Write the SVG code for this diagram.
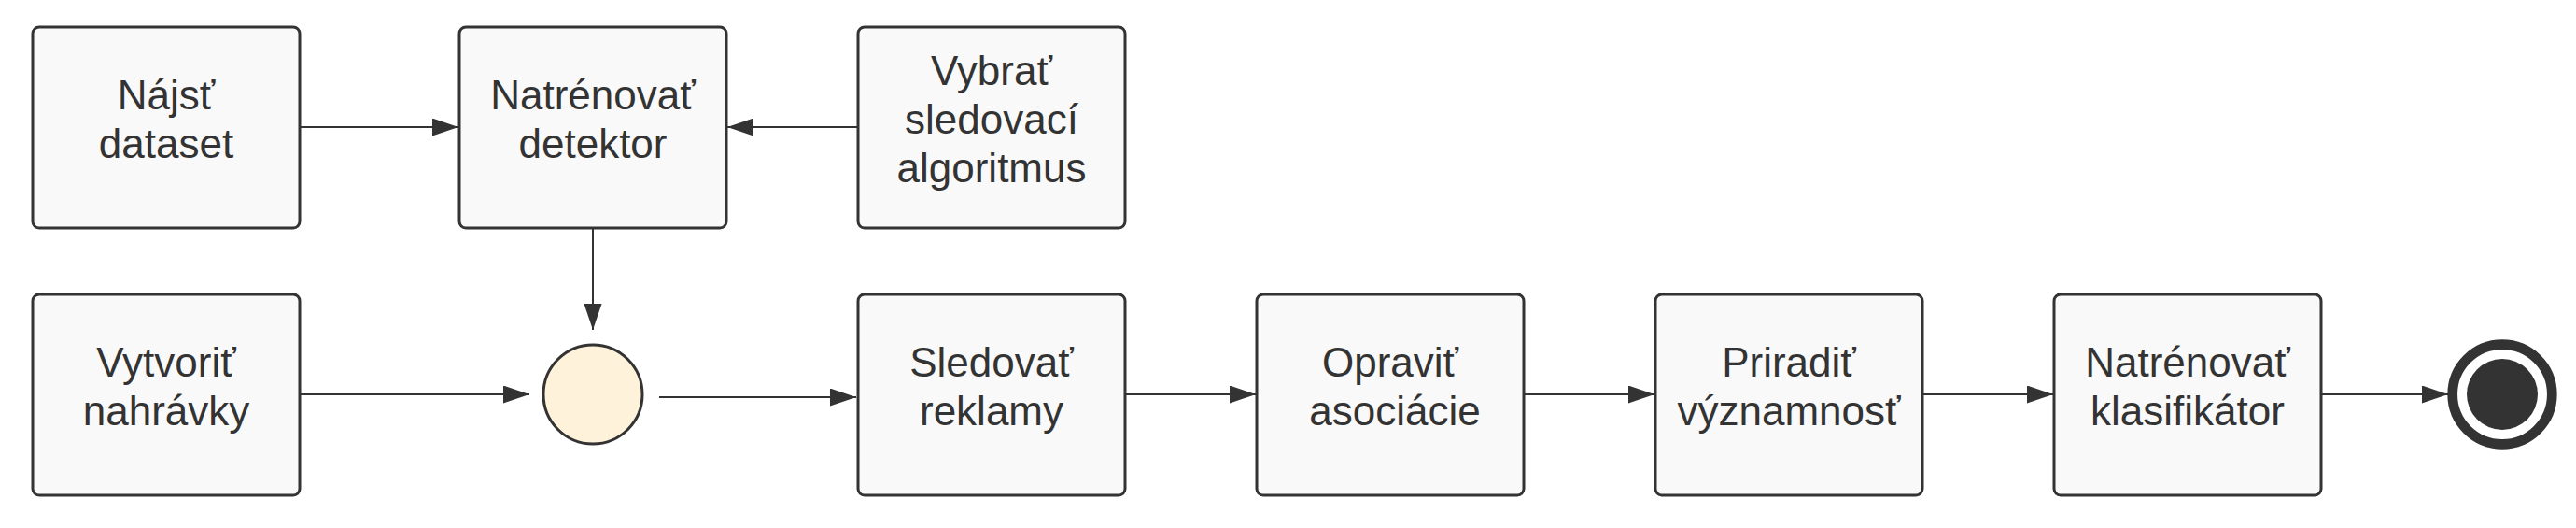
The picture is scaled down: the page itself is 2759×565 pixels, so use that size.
<svg xmlns="http://www.w3.org/2000/svg" width="2759" height="565" viewBox="0 0 2759 565">
<style>
.box{fill:#f9f9f9;stroke:#333333;stroke-width:3}
.lbl{font-family:"Liberation Sans",Arial,sans-serif;font-size:44px;fill:#333333;text-anchor:middle}
.conn{stroke:#333333;stroke-width:2;fill:none;marker-end:url(#arr)}
</style>
<defs>
<marker id="arr" markerUnits="userSpaceOnUse" markerWidth="28" markerHeight="19" refX="28" refY="9.5" orient="auto">
<path d="M0,0 L28,9.5 L0,19 z" fill="#333333"/>
</marker>
</defs>
<rect width="2759" height="565" fill="#ffffff"/>
<g id="connectors">
<line class="conn" x1="322" y1="136" x2="491" y2="136"/>
<line class="conn" x1="919" y1="136" x2="779" y2="136"/>
<line class="conn" x1="635" y1="244" x2="635" y2="353"/>
<line class="conn" x1="322" y1="422" x2="567" y2="422"/>
<line class="conn" x1="706" y1="425" x2="917" y2="425"/>
<line class="conn" x1="1205" y1="422" x2="1345" y2="422"/>
<line class="conn" x1="1632" y1="422" x2="1772" y2="422"/>
<line class="conn" x1="2059" y1="422" x2="2199" y2="422"/>
<line class="conn" x1="2486" y1="422" x2="2622" y2="422"/>
</g>
<g id="najst-dataset">
<rect class="box" x="35" y="29" width="286" height="215" rx="7"/>
<text class="lbl" x="178" y="117">Nájsť</text>
<text class="lbl" x="178" y="169">dataset</text>
</g>
<g id="natrenovat-detektor">
<rect class="box" x="492" y="29" width="286" height="215" rx="7"/>
<text class="lbl" x="635" y="117">Natrénovať</text>
<text class="lbl" x="635" y="169">detektor</text>
</g>
<g id="vybrat-algoritmus">
<rect class="box" x="919" y="29" width="286" height="215" rx="7"/>
<text class="lbl" x="1062" y="91">Vybrať</text>
<text class="lbl" x="1062" y="143">sledovací</text>
<text class="lbl" x="1062" y="195">algoritmus</text>
</g>
<g id="vytvorit-nahravky">
<rect class="box" x="35" y="315" width="286" height="215" rx="7"/>
<text class="lbl" x="178" y="403">Vytvoriť</text>
<text class="lbl" x="178" y="455">nahrávky</text>
</g>
<g id="merge">
<circle cx="635" cy="422" r="53" fill="#fff2db" stroke="#333333" stroke-width="3"/>
</g>
<g id="sledovat-reklamy">
<rect class="box" x="919" y="315" width="286" height="215" rx="7"/>
<text class="lbl" x="1062" y="403">Sledovať</text>
<text class="lbl" x="1062" y="455">reklamy</text>
</g>
<g id="opravit-asociacie">
<rect class="box" x="1346" y="315" width="286" height="215" rx="7"/>
<text class="lbl" x="1489" y="403">Opraviť</text>
<text class="lbl" x="1494" y="455">asociácie</text>
</g>
<g id="priradit-vyznamnost">
<rect class="box" x="1773" y="315" width="286" height="215" rx="7"/>
<text class="lbl" x="1916" y="403">Priradiť</text>
<text class="lbl" x="1916" y="455">významnosť</text>
</g>
<g id="natrenovat-klasifikator">
<rect class="box" x="2200" y="315" width="286" height="215" rx="7"/>
<text class="lbl" x="2343" y="403">Natrénovať</text>
<text class="lbl" x="2343" y="455">klasifikátor</text>
</g>
<g id="end">
<circle cx="2680" cy="422" r="53.3" fill="#ffffff" stroke="#333333" stroke-width="10.7"/>
<circle cx="2680" cy="422" r="38" fill="#333333"/>
</g>
</svg>
